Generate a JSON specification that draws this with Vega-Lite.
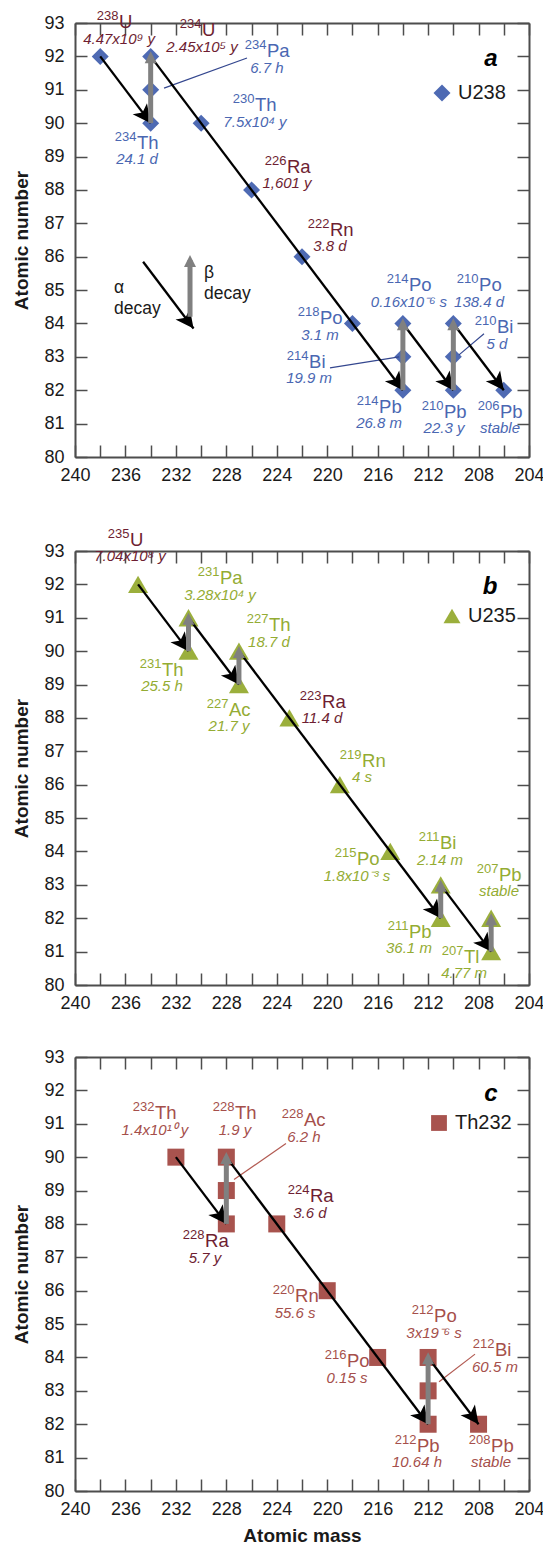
{
  "$schema": "https://vega.github.io/schema/vega-lite/v6.json",
  "padding": {"top": 10, "left": 12, "right": 0, "bottom": 0},
  "background": "white",
  "config": {
    "font": "Liberation Sans",
    "view": {"stroke": null},
    "axis": {
      "domainColor": "#4d4d4d", "domainWidth": 2, "tickColor": "#4d4d4d", "tickWidth": 1.5, "tickSize": -12,
      "grid": false, "labelFontSize": 18, "labelColor": "#1a1a1a", "titleFontSize": 19, "titleFontWeight": "bold",
      "titleColor": "#1a1a1a", "titlePadding": 12
    },
    "legend": {"labelFontSize": 20, "labelColor": "#1a1a1a", "padding": 0, "labelOffset": 6, "symbolStrokeWidth": 0, "symbolOpacity": 1}
  },
  "datasets": {
    "nuc": [
      {"chain":"U238","A":238,"Z":92,"sup":"238","sym":"U","hl":"4.47x10⁹ y","lx":236.51,"ly":92.85,"tone":"dark"},
      {"chain":"U238","A":234,"Z":90,"sup":"234","sym":"Th","hl":"24.1 d","lx":235.08,"ly":89.23,"tone":"main"},
      {"chain":"U238","A":234,"Z":91,"sup":"234","sym":"Pa","hl":"6.7 h","lx":224.78,"ly":91.98,"tone":"main"},
      {"chain":"U238","A":234,"Z":92,"sup":"234","sym":"U","hl":"2.45x10⁵ y","lx":229.93,"ly":92.61,"tone":"dark"},
      {"chain":"U238","A":230,"Z":90,"sup":"230","sym":"Th","hl":"7.5x10⁴ y","lx":225.73,"ly":90.36,"tone":"main"},
      {"chain":"U238","A":226,"Z":88,"sup":"226","sym":"Ra","hl":"1,601 y","lx":223.19,"ly":88.51,"tone":"dark"},
      {"chain":"U238","A":222,"Z":86,"sup":"222","sym":"Rn","hl":"3.8 d","lx":219.78,"ly":86.62,"tone":"dark"},
      {"chain":"U238","A":218,"Z":84,"sup":"218","sym":"Po","hl":"3.1 m","lx":220.57,"ly":83.98,"tone":"main"},
      {"chain":"U238","A":214,"Z":82,"sup":"214","sym":"Pb","hl":"26.8 m","lx":215.89,"ly":81.32,"tone":"main"},
      {"chain":"U238","A":214,"Z":83,"sup":"214","sym":"Bi","hl":"19.9 m","lx":221.44,"ly":82.67,"tone":"main"},
      {"chain":"U238","A":214,"Z":84,"sup":"214","sym":"Po","hl":"0.16x10⁻⁶ s","lx":213.52,"ly":84.97,"tone":"main"},
      {"chain":"U238","A":210,"Z":82,"sup":"210","sym":"Pb","hl":"22.3 y","lx":210.74,"ly":81.17,"tone":"main"},
      {"chain":"U238","A":210,"Z":83,"sup":"210","sym":"Bi","hl":"5 d","lx":206.54,"ly":83.71,"tone":"main"},
      {"chain":"U238","A":210,"Z":84,"sup":"210","sym":"Po","hl":"138.4 d","lx":207.96,"ly":84.97,"tone":"main"},
      {"chain":"U238","A":206,"Z":82,"sup":"206","sym":"Pb","hl":"stable","lx":206.30,"ly":81.17,"tone":"main"},
      {"chain":"U235","A":235,"Z":92,"sup":"235","sym":"U","hl":"7.04x10⁸ y","lx":235.64,"ly":93.15,"tone":"dark"},
      {"chain":"U235","A":231,"Z":90,"sup":"231","sym":"Th","hl":"25.5 h","lx":233.10,"ly":89.26,"tone":"main"},
      {"chain":"U235","A":231,"Z":91,"sup":"231","sym":"Pa","hl":"3.28x10⁴ y","lx":228.5,"ly":92.01,"tone":"main"},
      {"chain":"U235","A":227,"Z":89,"sup":"227","sym":"Ac","hl":"21.7 y","lx":227.79,"ly":88.06,"tone":"main"},
      {"chain":"U235","A":227,"Z":90,"sup":"227","sym":"Th","hl":"18.7 d","lx":224.62,"ly":90.60,"tone":"main"},
      {"chain":"U235","A":223,"Z":88,"sup":"223","sym":"Ra","hl":"11.4 d","lx":220.41,"ly":88.30,"tone":"dark"},
      {"chain":"U235","A":219,"Z":86,"sup":"219","sym":"Rn","hl":"4 s","lx":217.24,"ly":86.53,"tone":"main"},
      {"chain":"U235","A":215,"Z":84,"sup":"215","sym":"Po","hl":"1.8x10⁻³ s","lx":217.64,"ly":83.59,"tone":"main"},
      {"chain":"U235","A":211,"Z":82,"sup":"211","sym":"Pb","hl":"36.1 m","lx":213.52,"ly":81.41,"tone":"main"},
      {"chain":"U235","A":211,"Z":83,"sup":"211","sym":"Bi","hl":"2.14 m","lx":211.06,"ly":84.07,"tone":"main"},
      {"chain":"U235","A":207,"Z":81,"sup":"207","sym":"Tl","hl":"4.77 m","lx":209.15,"ly":80.66,"tone":"main"},
      {"chain":"U235","A":207,"Z":82,"sup":"207","sym":"Pb","hl":"stable","lx":206.38,"ly":83.12,"tone":"main"},
      {"chain":"Th232","A":232,"Z":90,"sup":"232","sym":"Th","hl":"1.4x10¹⁰ y","lx":233.66,"ly":91.13,"tone":"main"},
      {"chain":"Th232","A":228,"Z":88,"sup":"228","sym":"Ra","hl":"5.7 y","lx":229.69,"ly":87.30,"tone":"dark"},
      {"chain":"Th232","A":228,"Z":89,"sup":"228","sym":"Ac","hl":"6.2 h","lx":221.84,"ly":90.92,"tone":"main"},
      {"chain":"Th232","A":228,"Z":90,"sup":"228","sym":"Th","hl":"1.9 y","lx":227.31,"ly":91.13,"tone":"main"},
      {"chain":"Th232","A":224,"Z":88,"sup":"224","sym":"Ra","hl":"3.6 d","lx":221.37,"ly":88.65,"tone":"dark"},
      {"chain":"Th232","A":220,"Z":86,"sup":"220","sym":"Rn","hl":"55.6 s","lx":222.55,"ly":85.66,"tone":"main"},
      {"chain":"Th232","A":216,"Z":84,"sup":"216","sym":"Po","hl":"0.15 s","lx":218.43,"ly":83.71,"tone":"main"},
      {"chain":"Th232","A":212,"Z":82,"sup":"212","sym":"Pb","hl":"10.64 h","lx":212.88,"ly":81.17,"tone":"main"},
      {"chain":"Th232","A":212,"Z":83,"sup":"212","sym":"Bi","hl":"60.5 m","lx":206.70,"ly":84.04,"tone":"main"},
      {"chain":"Th232","A":212,"Z":84,"sup":"212","sym":"Po","hl":"3x19⁻⁶ s","lx":211.53,"ly":85.06,"tone":"main"},
      {"chain":"Th232","A":208,"Z":82,"sup":"208","sym":"Pb","hl":"stable","lx":207.01,"ly":81.17,"tone":"main"}
    ],
    "alpha": [
      {"chain":"U238","A1":238,"Z1":92,"A2":234,"Z2":90},
      {"chain":"U238","A1":234,"Z1":92,"A2":214,"Z2":82},
      {"chain":"U238","A1":214,"Z1":84,"A2":210,"Z2":82},
      {"chain":"U238","A1":210,"Z1":84,"A2":206,"Z2":82},
      {"chain":"U238","A1":234.6,"Z1":85.85,"A2":230.6,"Z2":83.85},
      {"chain":"U235","A1":235,"Z1":92,"A2":231,"Z2":90},
      {"chain":"U235","A1":231,"Z1":91,"A2":227,"Z2":89},
      {"chain":"U235","A1":227,"Z1":90,"A2":211,"Z2":82},
      {"chain":"U235","A1":211,"Z1":83,"A2":207,"Z2":81},
      {"chain":"Th232","A1":232,"Z1":90,"A2":228,"Z2":88},
      {"chain":"Th232","A1":228,"Z1":90,"A2":212,"Z2":82},
      {"chain":"Th232","A1":212,"Z1":84,"A2":208,"Z2":82}
    ],
    "beta": [
      {"chain":"U238","A":234,"Z1":90,"Z2":92},
      {"chain":"U238","A":214,"Z1":82,"Z2":84},
      {"chain":"U238","A":210,"Z1":82,"Z2":84},
      {"chain":"U238","A":230.88,"Z1":84.2,"Z2":85.9},
      {"chain":"U235","A":231,"Z1":90,"Z2":91},
      {"chain":"U235","A":227,"Z1":89,"Z2":90},
      {"chain":"U235","A":211,"Z1":82,"Z2":83},
      {"chain":"U235","A":207,"Z1":81,"Z2":82},
      {"chain":"Th232","A":228,"Z1":88,"Z2":90},
      {"chain":"Th232","A":212,"Z1":82,"Z2":84}
    ],
    "leader": [
      {"chain":"U238","A1":232.94,"Z1":91.05,"A2":226.36,"Z2":91.95},
      {"chain":"U238","A1":219.78,"Z1":82.67,"A2":214.3,"Z2":83.0},
      {"chain":"U238","A1":209.55,"Z1":83.06,"A2":207.57,"Z2":83.69},
      {"chain":"Th232","A1":227.39,"Z1":89.33,"A2":223.27,"Z2":90.41},
      {"chain":"Th232","A1":211.13,"Z1":83.27,"A2":208.28,"Z2":84.1}
    ],
    "keytext": [
      {"chain":"U238","txt":"α\ndecay","lx":236.91,"ly":84.91},
      {"chain":"U238","txt":"β\ndecay","lx":229.77,"ly":85.36}
    ]
  },
  "resolve": {"scale": {"color": "independent", "shape": "independent"}, "legend": {"color": "independent", "shape": "independent"}},
  "spacing": 36,
  "vconcat": [
    {
      "bounds": "flush",
      "spacing": 94,
      "resolve": {"scale": {"color": "independent", "shape": "independent"}, "legend": {"color": "independent", "shape": "independent"}},
      "vconcat": [
        {
          "width": 454, "height": 434,
          "resolve": {"axis": {"x": "independent", "y": "independent"}},
          "layer": [
            {"data": {"name": "nuc"}, "transform": [{"filter": "datum.chain === 'U238'"}],
             "mark": {"type": "point", "filled": true, "opacity": 1, "size": 289, "strokeWidth": 0},
             "encoding": {
               "x": {"field": "A", "type": "quantitative", "scale": {"domain": [204, 240], "reverse": true, "nice": false, "zero": false}, "title": null,
                     "axis": {"orient": "bottom", "values": [204,206,208,210,212,214,216,218,220,222,224,226,228,230,232,234,236,238,240], "format": "d", "labelExpr": "datum.value % 4 === 0 ? datum.label : ''", "labelFlush": false, "labelOverlap": false, "labelPadding": 21}},
               "y": {"field": "Z", "type": "quantitative", "scale": {"domain": [80, 93], "nice": false, "zero": false}, "title": "Atomic number",
                     "axis": {"orient": "left", "values": [80,81,82,83,84,85,86,87,88,89,90,91,92,93], "format": "d", "labelFlush": false, "labelOverlap": false, "labelPadding": 23}},
               "color": {"field": "chain", "type": "nominal", "scale": {"domain": ["U238"], "range": ["#4E6AB3"]}, "legend": {"orient": "none", "legendX": 357, "legendY": 60, "title": null, "symbolSize": 289}},
               "shape": {"field": "chain", "type": "nominal", "scale": {"domain": ["U238"], "range": ["diamond"]}, "legend": {"orient": "none", "legendX": 357, "legendY": 60, "title": null, "symbolSize": 289}}
             }},
            {"data": {"name": "leader"}, "transform": [{"filter": "datum.chain === 'U238'"}],
             "mark": {"type": "rule", "color": "#34478F", "strokeWidth": 1.2},
             "encoding": {
               "x": {"field": "A1", "type": "quantitative", "scale": {"domain": [204, 240], "reverse": true, "nice": false, "zero": false}, "axis": null},
               "y": {"field": "Z1", "type": "quantitative", "scale": {"domain": [80, 93], "nice": false, "zero": false}, "axis": null},
               "x2": {"field": "A2"}, "y2": {"field": "Z2"}
             }},
            {"data": {"name": "alpha"}, "transform": [{"filter": "datum.chain === 'U238'"}],
             "mark": {"type": "rule", "color": "#000000", "strokeWidth": 2.3},
             "encoding": {
               "x": {"field": "A1", "type": "quantitative", "scale": {"domain": [204, 240], "reverse": true, "nice": false, "zero": false}, "title": "a",
                     "axis": {"orient": "top", "values": [204,206,208,210,212,214,216,218,220,222,224,226,228,230,232,234,236,238,240], "labels": false,
                              "titleX": 422, "titleY": 42, "titleAlign": "right", "titleBaseline": "alphabetic", "titleAngle": 0, "titleFontSize": 24, "titleFontStyle": "italic", "titleFontWeight": "bold", "titleColor": "#000000"}},
               "y": {"field": "Z1", "type": "quantitative", "scale": {"domain": [80, 93], "nice": false, "zero": false}, "title": null,
                     "axis": {"orient": "right", "values": [80,81,82,83,84,85,86,87,88,89,90,91,92,93], "labels": false}},
               "x2": {"field": "A2"}, "y2": {"field": "Z2"}
             }},
            {"data": {"name": "alpha"}, "transform": [{"filter": "datum.chain === 'U238'"}],
             "mark": {"type": "point", "shape": "M0,0L0.9,1.8L0,1.35L-0.9,1.8Z", "size": 400, "angle": 142.9, "filled": true, "opacity": 1, "color": "#000000", "strokeWidth": 0},
             "encoding": {
               "x": {"field": "A2", "type": "quantitative", "scale": {"domain": [204, 240], "reverse": true, "nice": false, "zero": false}, "axis": null},
               "y": {"field": "Z2", "type": "quantitative", "scale": {"domain": [80, 93], "nice": false, "zero": false}, "axis": null}
             }},
            {"data": {"name": "beta"}, "transform": [{"filter": "datum.chain === 'U238'"}],
             "mark": {"type": "rule", "color": "#808080", "strokeWidth": 5},
             "encoding": {
               "x": {"field": "A", "type": "quantitative", "scale": {"domain": [204, 240], "reverse": true, "nice": false, "zero": false}, "axis": null},
               "y": {"field": "Z1", "type": "quantitative", "scale": {"domain": [80, 93], "nice": false, "zero": false}, "axis": null},
               "y2": {"field": "Z2"}
             }},
            {"data": {"name": "beta"}, "transform": [{"filter": "datum.chain === 'U238'"}],
             "mark": {"type": "point", "shape": "M0,-0.85L1,1.15L-1,1.15Z", "size": 144, "filled": true, "opacity": 1, "color": "#808080", "strokeWidth": 0},
             "encoding": {
               "x": {"field": "A", "type": "quantitative", "scale": {"domain": [204, 240], "reverse": true, "nice": false, "zero": false}, "axis": null},
               "y": {"field": "Z2", "type": "quantitative", "scale": {"domain": [80, 93], "nice": false, "zero": false}, "axis": null}
             }},
            {"data": {"name": "nuc"}, "transform": [{"filter": "datum.chain === 'U238'"}],
             "mark": {"type": "text", "align": "right", "baseline": "alphabetic", "fontSize": 13, "dx": -0.5, "dy": -8},
             "encoding": {
               "x": {"field": "lx", "type": "quantitative", "scale": {"domain": [204, 240], "reverse": true, "nice": false, "zero": false}, "axis": null},
               "y": {"field": "ly", "type": "quantitative", "scale": {"domain": [80, 93], "nice": false, "zero": false}, "axis": null},
               "text": {"field": "sup"},
               "color": {"condition": {"test": "datum.tone === 'dark'", "value": "#6E1E32"}, "value": "#4A67B2"}
             }},
            {"data": {"name": "nuc"}, "transform": [{"filter": "datum.chain === 'U238'"}],
             "mark": {"type": "text", "align": "left", "baseline": "alphabetic", "fontSize": 18.5},
             "encoding": {
               "x": {"field": "lx", "type": "quantitative", "scale": {"domain": [204, 240], "reverse": true, "nice": false, "zero": false}, "axis": null},
               "y": {"field": "ly", "type": "quantitative", "scale": {"domain": [80, 93], "nice": false, "zero": false}, "axis": null},
               "text": {"field": "sym"},
               "color": {"condition": {"test": "datum.tone === 'dark'", "value": "#6E1E32"}, "value": "#4A67B2"}
             }},
            {"data": {"name": "nuc"}, "transform": [{"filter": "datum.chain === 'U238'"}],
             "mark": {"type": "text", "align": "center", "baseline": "alphabetic", "fontSize": 15, "fontStyle": "italic", "dy": 15.5},
             "encoding": {
               "x": {"field": "lx", "type": "quantitative", "scale": {"domain": [204, 240], "reverse": true, "nice": false, "zero": false}, "axis": null},
               "y": {"field": "ly", "type": "quantitative", "scale": {"domain": [80, 93], "nice": false, "zero": false}, "axis": null},
               "text": {"field": "hl"},
               "color": {"condition": {"test": "datum.tone === 'dark'", "value": "#6E1E32"}, "value": "#4A67B2"}
             }},
            {"data": {"name": "keytext"}, "transform": [{"filter": "datum.chain === 'U238'"}],
             "mark": {"type": "text", "align": "left", "baseline": "alphabetic", "fontSize": 17.5, "lineBreak": "\n", "lineHeight": 21, "color": "#1a1a1a"},
             "encoding": {
               "x": {"field": "lx", "type": "quantitative", "scale": {"domain": [204, 240], "reverse": true, "nice": false, "zero": false}, "axis": null},
               "y": {"field": "ly", "type": "quantitative", "scale": {"domain": [80, 93], "nice": false, "zero": false}, "axis": null},
               "text": {"field": "txt"}
             }}
          ]
        },
        {
          "width": 454, "height": 434,
          "resolve": {"axis": {"x": "independent", "y": "independent"}},
          "layer": [
            {"data": {"name": "nuc"}, "transform": [{"filter": "datum.chain === 'U235'"}],
             "mark": {"type": "point", "filled": true, "opacity": 1, "size": 400, "strokeWidth": 0},
             "encoding": {
               "x": {"field": "A", "type": "quantitative", "scale": {"domain": [204, 240], "reverse": true, "nice": false, "zero": false}, "title": null,
                     "axis": {"orient": "bottom", "values": [204,206,208,210,212,214,216,218,220,222,224,226,228,230,232,234,236,238,240], "format": "d", "labelExpr": "datum.value % 4 === 0 ? datum.label : ''", "labelFlush": false, "labelOverlap": false, "labelPadding": 21}},
               "y": {"field": "Z", "type": "quantitative", "scale": {"domain": [80, 93], "nice": false, "zero": false}, "title": "Atomic number",
                     "axis": {"orient": "left", "values": [80,81,82,83,84,85,86,87,88,89,90,91,92,93], "format": "d", "labelFlush": false, "labelOverlap": false, "labelPadding": 23}},
               "color": {"field": "chain", "type": "nominal", "scale": {"domain": ["U235"], "range": ["#9BAF3C"]}, "legend": {"orient": "none", "legendX": 367, "legendY": 55, "title": null, "symbolSize": 289}},
               "shape": {"field": "chain", "type": "nominal", "scale": {"domain": ["U235"], "range": ["triangle-up"]}, "legend": {"orient": "none", "legendX": 367, "legendY": 55, "title": null, "symbolSize": 289}}
             }},
            {"data": {"name": "alpha"}, "transform": [{"filter": "datum.chain === 'U235'"}],
             "mark": {"type": "rule", "color": "#000000", "strokeWidth": 2.3},
             "encoding": {
               "x": {"field": "A1", "type": "quantitative", "scale": {"domain": [204, 240], "reverse": true, "nice": false, "zero": false}, "title": "b",
                     "axis": {"orient": "top", "values": [204,206,208,210,212,214,216,218,220,222,224,226,228,230,232,234,236,238,240], "labels": false,
                              "titleX": 422, "titleY": 42, "titleAlign": "right", "titleBaseline": "alphabetic", "titleAngle": 0, "titleFontSize": 24, "titleFontStyle": "italic", "titleFontWeight": "bold", "titleColor": "#000000"}},
               "y": {"field": "Z1", "type": "quantitative", "scale": {"domain": [80, 93], "nice": false, "zero": false}, "title": null,
                     "axis": {"orient": "right", "values": [80,81,82,83,84,85,86,87,88,89,90,91,92,93], "labels": false}},
               "x2": {"field": "A2"}, "y2": {"field": "Z2"}
             }},
            {"data": {"name": "alpha"}, "transform": [{"filter": "datum.chain === 'U235'"}],
             "mark": {"type": "point", "shape": "M0,0L0.9,1.8L0,1.35L-0.9,1.8Z", "size": 400, "angle": 142.9, "filled": true, "opacity": 1, "color": "#000000", "strokeWidth": 0},
             "encoding": {
               "x": {"field": "A2", "type": "quantitative", "scale": {"domain": [204, 240], "reverse": true, "nice": false, "zero": false}, "axis": null},
               "y": {"field": "Z2", "type": "quantitative", "scale": {"domain": [80, 93], "nice": false, "zero": false}, "axis": null}
             }},
            {"data": {"name": "beta"}, "transform": [{"filter": "datum.chain === 'U235'"}],
             "mark": {"type": "rule", "color": "#808080", "strokeWidth": 5},
             "encoding": {
               "x": {"field": "A", "type": "quantitative", "scale": {"domain": [204, 240], "reverse": true, "nice": false, "zero": false}, "axis": null},
               "y": {"field": "Z1", "type": "quantitative", "scale": {"domain": [80, 93], "nice": false, "zero": false}, "axis": null},
               "y2": {"field": "Z2"}
             }},
            {"data": {"name": "beta"}, "transform": [{"filter": "datum.chain === 'U235'"}],
             "mark": {"type": "point", "shape": "M0,-0.85L1,1.15L-1,1.15Z", "size": 144, "filled": true, "opacity": 1, "color": "#808080", "strokeWidth": 0},
             "encoding": {
               "x": {"field": "A", "type": "quantitative", "scale": {"domain": [204, 240], "reverse": true, "nice": false, "zero": false}, "axis": null},
               "y": {"field": "Z2", "type": "quantitative", "scale": {"domain": [80, 93], "nice": false, "zero": false}, "axis": null}
             }},
            {"data": {"name": "nuc"}, "transform": [{"filter": "datum.chain === 'U235'"}],
             "mark": {"type": "text", "align": "right", "baseline": "alphabetic", "fontSize": 13, "dx": -0.5, "dy": -8},
             "encoding": {
               "x": {"field": "lx", "type": "quantitative", "scale": {"domain": [204, 240], "reverse": true, "nice": false, "zero": false}, "axis": null},
               "y": {"field": "ly", "type": "quantitative", "scale": {"domain": [80, 93], "nice": false, "zero": false}, "axis": null},
               "text": {"field": "sup"},
               "color": {"condition": {"test": "datum.tone === 'dark'", "value": "#6E1E32"}, "value": "#94AC33"}
             }},
            {"data": {"name": "nuc"}, "transform": [{"filter": "datum.chain === 'U235'"}],
             "mark": {"type": "text", "align": "left", "baseline": "alphabetic", "fontSize": 18.5},
             "encoding": {
               "x": {"field": "lx", "type": "quantitative", "scale": {"domain": [204, 240], "reverse": true, "nice": false, "zero": false}, "axis": null},
               "y": {"field": "ly", "type": "quantitative", "scale": {"domain": [80, 93], "nice": false, "zero": false}, "axis": null},
               "text": {"field": "sym"},
               "color": {"condition": {"test": "datum.tone === 'dark'", "value": "#6E1E32"}, "value": "#94AC33"}
             }},
            {"data": {"name": "nuc"}, "transform": [{"filter": "datum.chain === 'U235'"}],
             "mark": {"type": "text", "align": "center", "baseline": "alphabetic", "fontSize": 15, "fontStyle": "italic", "dy": 15.5},
             "encoding": {
               "x": {"field": "lx", "type": "quantitative", "scale": {"domain": [204, 240], "reverse": true, "nice": false, "zero": false}, "axis": null},
               "y": {"field": "ly", "type": "quantitative", "scale": {"domain": [80, 93], "nice": false, "zero": false}, "axis": null},
               "text": {"field": "hl"},
               "color": {"condition": {"test": "datum.tone === 'dark'", "value": "#6E1E32"}, "value": "#94AC33"}
             }}
          ]
        }
      ]
    },
    {
      "width": 454, "height": 434,
      "resolve": {"axis": {"x": "independent", "y": "independent"}},
      "layer": [
        {"data": {"name": "nuc"}, "transform": [{"filter": "datum.chain === 'Th232'"}],
         "mark": {"type": "point", "filled": true, "opacity": 1, "size": 289, "strokeWidth": 0},
         "encoding": {
           "x": {"field": "A", "type": "quantitative", "scale": {"domain": [204, 240], "reverse": true, "nice": false, "zero": false}, "title": "Atomic mass",
                 "axis": {"orient": "bottom", "values": [204,206,208,210,212,214,216,218,220,222,224,226,228,230,232,234,236,238,240], "format": "d", "labelExpr": "datum.value % 4 === 0 ? datum.label : ''", "labelFlush": false, "labelOverlap": false, "labelPadding": 21, "titlePadding": 8}},
           "y": {"field": "Z", "type": "quantitative", "scale": {"domain": [80, 93], "nice": false, "zero": false}, "title": "Atomic number",
                 "axis": {"orient": "left", "values": [80,81,82,83,84,85,86,87,88,89,90,91,92,93], "format": "d", "labelFlush": false, "labelOverlap": false, "labelPadding": 23}},
           "color": {"field": "chain", "type": "nominal", "scale": {"domain": ["Th232"], "range": ["#A8534E"]}, "legend": {"orient": "none", "legendX": 354, "legendY": 56, "title": null, "symbolSize": 250}},
           "shape": {"field": "chain", "type": "nominal", "scale": {"domain": ["Th232"], "range": ["square"]}, "legend": {"orient": "none", "legendX": 354, "legendY": 56, "title": null, "symbolSize": 250}}
         }},
        {"data": {"name": "leader"}, "transform": [{"filter": "datum.chain === 'Th232'"}],
         "mark": {"type": "rule", "color": "#B25A52", "strokeWidth": 1.2},
         "encoding": {
           "x": {"field": "A1", "type": "quantitative", "scale": {"domain": [204, 240], "reverse": true, "nice": false, "zero": false}, "axis": null},
           "y": {"field": "Z1", "type": "quantitative", "scale": {"domain": [80, 93], "nice": false, "zero": false}, "axis": null},
           "x2": {"field": "A2"}, "y2": {"field": "Z2"}
         }},
        {"data": {"name": "alpha"}, "transform": [{"filter": "datum.chain === 'Th232'"}],
         "mark": {"type": "rule", "color": "#000000", "strokeWidth": 2.3},
         "encoding": {
           "x": {"field": "A1", "type": "quantitative", "scale": {"domain": [204, 240], "reverse": true, "nice": false, "zero": false}, "title": "c",
                 "axis": {"orient": "top", "values": [204,206,208,210,212,214,216,218,220,222,224,226,228,230,232,234,236,238,240], "labels": false,
                          "titleX": 422, "titleY": 43, "titleAlign": "right", "titleBaseline": "alphabetic", "titleAngle": 0, "titleFontSize": 24, "titleFontStyle": "italic", "titleFontWeight": "bold", "titleColor": "#000000"}},
           "y": {"field": "Z1", "type": "quantitative", "scale": {"domain": [80, 93], "nice": false, "zero": false}, "title": null,
                 "axis": {"orient": "right", "values": [80,81,82,83,84,85,86,87,88,89,90,91,92,93], "labels": false}},
           "x2": {"field": "A2"}, "y2": {"field": "Z2"}
         }},
        {"data": {"name": "alpha"}, "transform": [{"filter": "datum.chain === 'Th232'"}],
         "mark": {"type": "point", "shape": "M0,0L0.9,1.8L0,1.35L-0.9,1.8Z", "size": 400, "angle": 143, "filled": true, "opacity": 1, "color": "#000000", "strokeWidth": 0},
         "encoding": {
           "x": {"field": "A2", "type": "quantitative", "scale": {"domain": [204, 240], "reverse": true, "nice": false, "zero": false}, "axis": null},
           "y": {"field": "Z2", "type": "quantitative", "scale": {"domain": [80, 93], "nice": false, "zero": false}, "axis": null}
         }},
        {"data": {"name": "beta"}, "transform": [{"filter": "datum.chain === 'Th232'"}],
         "mark": {"type": "rule", "color": "#808080", "strokeWidth": 5},
         "encoding": {
           "x": {"field": "A", "type": "quantitative", "scale": {"domain": [204, 240], "reverse": true, "nice": false, "zero": false}, "axis": null},
           "y": {"field": "Z1", "type": "quantitative", "scale": {"domain": [80, 93], "nice": false, "zero": false}, "axis": null},
           "y2": {"field": "Z2"}
         }},
        {"data": {"name": "beta"}, "transform": [{"filter": "datum.chain === 'Th232'"}],
         "mark": {"type": "point", "shape": "M0,-0.85L1,1.15L-1,1.15Z", "size": 144, "filled": true, "opacity": 1, "color": "#808080", "strokeWidth": 0},
         "encoding": {
           "x": {"field": "A", "type": "quantitative", "scale": {"domain": [204, 240], "reverse": true, "nice": false, "zero": false}, "axis": null},
           "y": {"field": "Z2", "type": "quantitative", "scale": {"domain": [80, 93], "nice": false, "zero": false}, "axis": null}
         }},
        {"data": {"name": "nuc"}, "transform": [{"filter": "datum.chain === 'Th232'"}],
         "mark": {"type": "text", "align": "right", "baseline": "alphabetic", "fontSize": 13, "dx": -0.5, "dy": -8},
         "encoding": {
           "x": {"field": "lx", "type": "quantitative", "scale": {"domain": [204, 240], "reverse": true, "nice": false, "zero": false}, "axis": null},
           "y": {"field": "ly", "type": "quantitative", "scale": {"domain": [80, 93], "nice": false, "zero": false}, "axis": null},
           "text": {"field": "sup"},
           "color": {"condition": {"test": "datum.tone === 'dark'", "value": "#6E1E32"}, "value": "#A54F4B"}
         }},
        {"data": {"name": "nuc"}, "transform": [{"filter": "datum.chain === 'Th232'"}],
         "mark": {"type": "text", "align": "left", "baseline": "alphabetic", "fontSize": 18.5},
         "encoding": {
           "x": {"field": "lx", "type": "quantitative", "scale": {"domain": [204, 240], "reverse": true, "nice": false, "zero": false}, "axis": null},
           "y": {"field": "ly", "type": "quantitative", "scale": {"domain": [80, 93], "nice": false, "zero": false}, "axis": null},
           "text": {"field": "sym"},
           "color": {"condition": {"test": "datum.tone === 'dark'", "value": "#6E1E32"}, "value": "#A54F4B"}
         }},
        {"data": {"name": "nuc"}, "transform": [{"filter": "datum.chain === 'Th232'"}],
         "mark": {"type": "text", "align": "center", "baseline": "alphabetic", "fontSize": 15, "fontStyle": "italic", "dy": 15.5},
         "encoding": {
           "x": {"field": "lx", "type": "quantitative", "scale": {"domain": [204, 240], "reverse": true, "nice": false, "zero": false}, "axis": null},
           "y": {"field": "ly", "type": "quantitative", "scale": {"domain": [80, 93], "nice": false, "zero": false}, "axis": null},
           "text": {"field": "hl"},
           "color": {"condition": {"test": "datum.tone === 'dark'", "value": "#6E1E32"}, "value": "#A54F4B"}
         }}
      ]
    }
  ]
}
